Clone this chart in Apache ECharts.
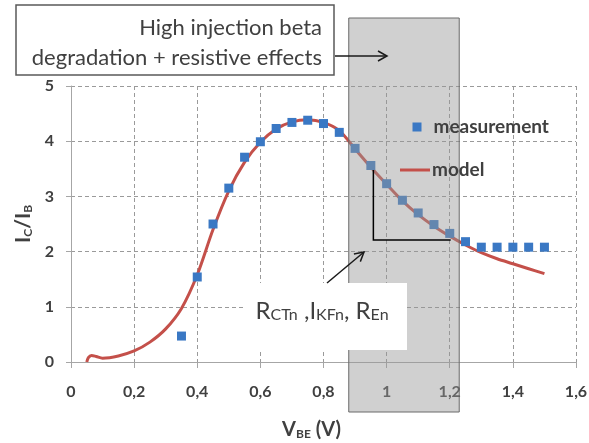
<!DOCTYPE html>
<html><head><meta charset="utf-8">
<script src="https://cdn.jsdelivr.net/npm/echarts/dist/echarts.min.js"></script>
<style>html,body{margin:0;padding:0;background:#fff}#c{width:589px;height:443px}</style>
</head><body><div id="c"></div>
<script>
// ---- data ----
const vbeMeas  = [0.35,0.40,0.45,0.50,0.55,0.60,0.65,0.70,0.75,0.80,0.85,0.90,0.95,1.00,1.05,1.10,1.15,1.20,1.25,1.30,1.35,1.40,1.45,1.50];
const betaMeas = [0.47,1.54,2.50,3.15,3.71,3.99,4.23,4.34,4.38,4.32,4.16,3.87,3.56,3.23,2.93,2.70,2.49,2.33,2.18,2.08,2.08,2.08,2.08,2.08];
const vbeModel  = [0.05,0.055,0.065,0.08,0.10,0.15,0.20,0.25,0.30,0.35,0.40,0.45,0.50,0.55,0.60,0.65,0.70,0.75,0.80,0.85,0.90,0.95,1.00,1.05,1.10,1.15,1.20,1.25,1.30,1.35,1.40,1.45,1.50];
const betaModel = [0.00,0.08,0.12,0.10,0.07,0.11,0.20,0.36,0.60,0.97,1.58,2.40,3.10,3.62,3.98,4.22,4.35,4.39,4.34,4.19,3.86,3.53,3.22,2.92,2.67,2.46,2.28,2.12,1.98,1.87,1.78,1.69,1.60];
const slopeX = [0.958, 0.958, 1.203];
const slopeY = [3.48, 2.21, 2.21];
const shadeRange = [0.88, 1.23];
const seriesNames = ['measurement', 'model'];
const boxLines = ['High injection beta', 'degradation + resistive effects'];

const FONT = 'Lato, "Open Sans", sans-serif';
const TXT = '#404040';
const chart = echarts.init(document.getElementById('c'), null, {renderer: 'canvas'});
const fmt = v => (Math.round(v * 10) / 10).toString().replace('.', ',');
const legendText = {fontFamily: FONT, fontWeight: 'bold', fontSize: 19, color: TXT, lineHeight: 19};

chart.setOption({
  animation: false,
  backgroundColor: '#fff',
  grid: {left: 71, right: 13, top: 86, bottom: 81, outerBoundsMode: 'none', containLabel: false},
  xAxis: {
    type: 'value', min: 0, max: 1.6, interval: 0.2,
    name: '{m|V}{s|BE}{m| (V)}', nameLocation: 'middle', nameGap: 54,
    nameTextStyle: {padding: [0, 24, 0, 0], rich: {
      m: {fontFamily: FONT, fontWeight: 'bold', fontSize: 20, color: TXT, lineHeight: 24, verticalAlign: 'bottom'},
      s: {fontFamily: FONT, fontWeight: 'bold', fontSize: 12, color: TXT, lineHeight: 11, verticalAlign: 'bottom'}}},
    axisLine: {show: true, lineStyle: {color: '#a6a6a6', width: 1}},
    axisTick: {show: true, length: 6, lineStyle: {color: '#a6a6a6'}},
    axisLabel: {formatter: fmt, margin: 22, fontFamily: FONT, fontWeight: 'bold', fontSize: 16, color: TXT},
    splitLine: {show: true, lineStyle: {color: '#9a9a9a', type: [4, 3], width: 1}}
  },
  yAxis: {
    type: 'value', min: 0, max: 5, interval: 1,
    name: '{m|I}{s|C}{m|/I}{s|B}', nameLocation: 'middle', nameGap: 36,
    nameTextStyle: {rich: {
      m: {fontFamily: FONT, fontWeight: 'bold', fontSize: 21, color: TXT, lineHeight: 24, verticalAlign: 'bottom'},
      s: {fontFamily: FONT, fontWeight: 'bold', fontSize: 12, color: TXT, lineHeight: 11, verticalAlign: 'bottom'}}},
    axisLine: {show: true, lineStyle: {color: '#a6a6a6', width: 1}},
    axisTick: {show: true, length: 5, lineStyle: {color: '#a6a6a6'}},
    axisLabel: {margin: 17, fontFamily: FONT, fontWeight: 'bold', fontSize: 16, color: TXT},
    splitLine: {show: true, lineStyle: {color: '#9a9a9a', type: [4, 3], width: 1}}
  },
  legend: [
    {orient: 'vertical', left: 412.5, top: 117.5, padding: 0, z: 20, icon: 'rect',
     itemWidth: 9, itemHeight: 9, textStyle: Object.assign({padding: [0, 0, 0, 7]}, legendText),
     data: [seriesNames[0]]},
    {orient: 'vertical', left: 400, top: 160.5, padding: 0, z: 20, icon: 'rect',
     itemWidth: 30, itemHeight: 3, textStyle: Object.assign({padding: [0, 0, 0, -3]}, legendText),
     data: [seriesNames[1]]}
  ],
  series: [
    {name: seriesNames[1], type: 'line', data: vbeModel.map((x, i) => [x, betaModel[i]]),
     showSymbol: false, symbol: 'none', smooth: 0.3, z: 2,
     lineStyle: {color: '#c4504a', width: 3}, itemStyle: {color: '#c4504a'}},
    {name: seriesNames[0], type: 'scatter', data: vbeMeas.map((x, i) => [x, betaMeas[i]]),
     symbol: 'rect', symbolSize: 9, z: 3,
     itemStyle: {color: '#3a78c4', opacity: 1}}
  ]
});

function px(x, y) { return chart.convertToPixel({gridIndex: 0}, [x, y]); }
function arrowHead(x1, y1, x2, y2, len, half) {
  const dx = x2 - x1, dy = y2 - y1, L = Math.hypot(dx, dy);
  const ux = dx / L, uy = dy / L, bx = x2 - ux * len, by = y2 - uy * len;
  return [[bx - uy * half, by + ux * half], [x2, y2], [bx + uy * half, by - ux * half]];
}
const a0 = px(shadeRange[0], 0), a1 = px(shadeRange[1], 0);
const slopePts = slopeX.map((x, i) => px(x, slopeY[i]));
const topArrow = [335, 56, 387, 56];
const rArrow = [327, 283, 364, 252];

chart.setOption({graphic: [
  {type: 'rect', z: 10, silent: true, shape: {x: a0[0], y: 18, width: a1[0] - a0[0], height: 394},
   style: {fill: 'rgba(150,150,150,0.45)', stroke: '#6a6a6a', lineWidth: 1}},
  {type: 'polyline', z: 12, shape: {points: slopePts}, style: {stroke: '#000', lineWidth: 1.5, fill: null}},
  {type: 'rect', z: 12, shape: {x: 16, y: 5, width: 318, height: 70},
   style: {fill: '#fff', stroke: '#595959', lineWidth: 1.5}},
  {type: 'text', z: 13, x: 322, y: 28, style: {text: boxLines[0], fontFamily: FONT, fontSize: 22, fill: TXT, align: 'right', verticalAlign: 'middle'}},
  {type: 'text', z: 13, x: 322, y: 58, style: {text: boxLines[1], fontFamily: FONT, fontSize: 22, fill: TXT, align: 'right', verticalAlign: 'middle'}},
  {type: 'line', z: 13, shape: {x1: topArrow[0], y1: topArrow[1], x2: topArrow[2], y2: topArrow[3]}, style: {stroke: '#1a1a1a', lineWidth: 1.5}},
  {type: 'polyline', z: 13, shape: {points: arrowHead(...topArrow, 9, 5)}, style: {stroke: '#1a1a1a', lineWidth: 1.5, fill: null}},
  {type: 'rect', z: 12, shape: {x: 243, y: 283, width: 164, height: 67}, style: {fill: '#fff'}},
  {type: 'line', z: 13, shape: {x1: rArrow[0], y1: rArrow[1], x2: rArrow[2], y2: rArrow[3]}, style: {stroke: '#1a1a1a', lineWidth: 1.5}},
  {type: 'polyline', z: 13, shape: {points: arrowHead(...rArrow, 9, 5)}, style: {stroke: '#1a1a1a', lineWidth: 1.5, fill: null}},
  {type: 'text', z: 13, x: 322, y: 308, style: {
    text: '{m|R}{s|CTn}{m| ,I}{s|KFn}{m|, R}{s|En}', align: 'center', verticalAlign: 'middle',
    rich: {
      m: {fontFamily: FONT, fontSize: 24, fill: TXT, lineHeight: 30, verticalAlign: 'bottom'},
      s: {fontFamily: FONT, fontSize: 16, fill: TXT, lineHeight: 19, verticalAlign: 'bottom'}
    }}}
]});
</script>
</body></html>
